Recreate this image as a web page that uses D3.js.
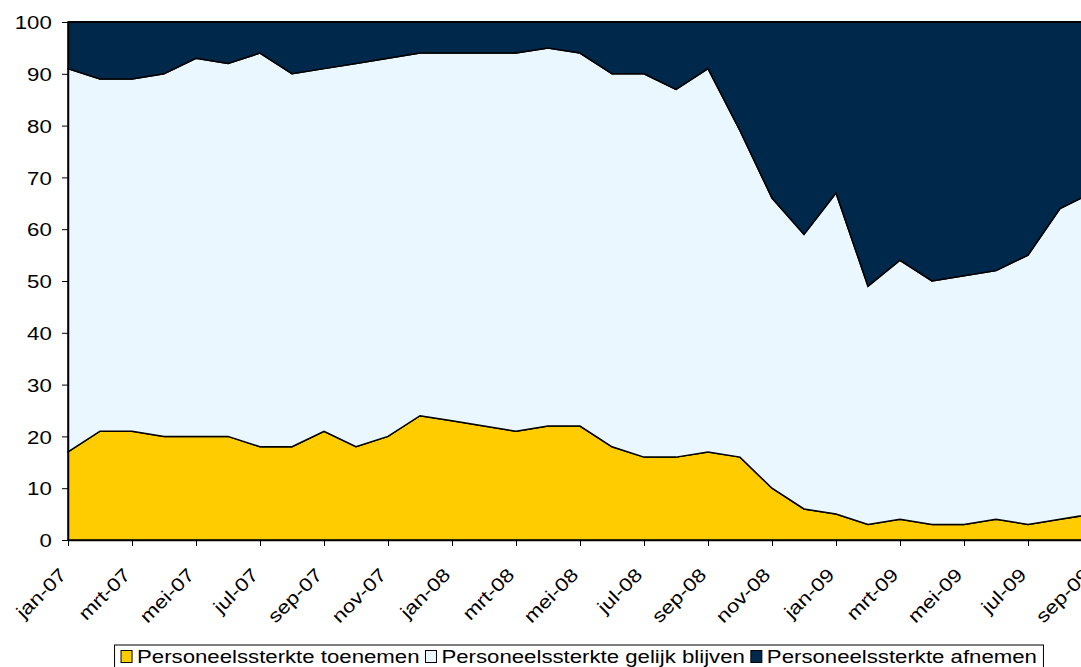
<!DOCTYPE html>
<html>
<head>
<meta charset="utf-8">
<script src="https://cdn.jsdelivr.net/npm/d3@7"></script>
<style>
  html, body { margin: 0; padding: 0; background: #ffffff; overflow: hidden; }
  svg { display: block; }
  text { font-family: "Liberation Sans", Arial, sans-serif; fill: #000; }
</style>
</head>
<body>
<svg id="chart" width="1081" height="667"></svg>
<script>
// ---- data ----
const months = ["jan-07","feb-07","mrt-07","apr-07","mei-07","jun-07","jul-07","aug-07","sep-07","okt-07","nov-07","dec-07",
                "jan-08","feb-08","mrt-08","apr-08","mei-08","jun-08","jul-08","aug-08","sep-08","okt-08","nov-08","dec-08",
                "jan-09","feb-09","mrt-09","apr-09","mei-09","jun-09","jul-09","aug-09","sep-09"];
const toenemen = [17,21,21,20,20,20,18,18,21,18,20,24,23,22,21,22,22,18,16,16,17,16,10,6,5,3,4,3,3,4,3,4,5];
const gelijk   = [74,68,68,70,73,72,76,72,70,74,73,70,71,72,73,73,72,72,74,71,74,63,56,53,62,46,50,47,48,48,52,60,62];
const afnemen  = [9,11,11,10,7,8,6,10,9,8,7,6,6,6,6,5,6,10,10,13,9,21,34,41,33,51,46,50,49,48,45,36,33];
const seriesNames = ["Personeelssterkte toenemen","Personeelssterkte gelijk blijven","Personeelssterkte afnemen"];
const seriesColors = ["#FFCC00","#EAF7FE","#00284A"];
const tickLabels = ["jan-07","mrt-07","mei-07","jul-07","sep-07","nov-07","jan-08","mrt-08","mei-08","jul-08","sep-08","nov-08","jan-09","mrt-09","mei-09","jul-09","sep-09"];
const yTicks = [0,10,20,30,40,50,60,70,80,90,100];

// ---- layout ----
const svg = d3.select("#chart");
const pL = 68, pR = 1092, pT = 22, pB = 540;
const SX = 1.2; // horizontal text stretch
const FS = 18.5;

const x = d3.scalePoint().domain(months).range([pL, pR]);
const y = d3.scaleLinear().domain([0, 100]).range([pB, pT]);

const keys = ["toenemen","gelijk","afnemen"];
const rows = months.map((m, i) => ({ month: m, toenemen: toenemen[i], gelijk: gelijk[i], afnemen: afnemen[i] }));
const stacked = d3.stack().keys(keys)(rows);

const area = d3.area()
  .x(d => x(d.data.month))
  .y0(d => y(d[0]))
  .y1(d => y(d[1]));

svg.append("g").selectAll("path")
  .data(stacked)
  .join("path")
  .attr("d", area)
  .attr("fill", (d, i) => seriesColors[i])
  .attr("stroke", "#000")
  .attr("stroke-width", 1.5)
  .attr("stroke-linejoin", "miter");

// top border of plot
svg.append("line").attr("x1", pL).attr("x2", pR).attr("y1", y(100)).attr("y2", y(100))
  .attr("stroke", "#000").attr("stroke-width", 2);

// y axis
const yAxis = svg.append("g")
  .attr("transform", `translate(${pL},0)`)
  .call(d3.axisLeft(y).tickValues(yTicks).tickSize(6).tickSizeOuter(0));
yAxis.select(".domain").attr("stroke", "#000").attr("stroke-width", 1.5);
yAxis.selectAll(".tick line").attr("stroke", "#000").attr("stroke-width", 1);
yAxis.selectAll(".tick text")
  .attr("x", -13.5)
  .attr("dy", "0.36em")
  .attr("transform", `scale(${SX},1)`)
  .style("font-size", FS + "px")
  .style("font-family", "'Liberation Sans', Arial, sans-serif")
  .attr("fill", "#000");

// x axis
const xAxis = svg.append("g")
  .attr("transform", `translate(0,${pB})`)
  .call(d3.axisBottom(x).tickValues(tickLabels).tickSize(6).tickSizeOuter(0));
xAxis.select(".domain").attr("stroke", "#000").attr("stroke-width", 1.5);
xAxis.selectAll(".tick line").attr("stroke", "#000").attr("stroke-width", 1);
xAxis.selectAll(".tick text").remove();
xAxis.selectAll(".tick").append("text")
  .attr("transform", `translate(-1,36) rotate(-45) scale(${SX},1)`)
  .attr("text-anchor", "end")
  .style("font-size", FS + "px")
  .style("font-family", "'Liberation Sans', Arial, sans-serif")
  .attr("fill", "#000")
  .text(d => d);

// legend
const lg = svg.append("g");
let cx = 0;
const sw = 12, gapText = 4, gapItem = 6;
seriesNames.forEach((name, i) => {
  const g = lg.append("g");
  g.append("rect").attr("x", cx).attr("y", -12.5).attr("width", sw - 1).attr("height", sw)
    .attr("fill", seriesColors[i]).attr("stroke", "#000").attr("stroke-width", 1);
  const t = g.append("text").attr("transform", `translate(${cx + sw + gapText},0) scale(${SX},1)`)
    .style("font-size", FS + "px").text(name);
  const w = t.node().getComputedTextLength() * SX;
  cx += sw + gapText + w + gapItem;
});
const contentW = cx - gapItem;
const boxPad = 6.5;
const boxW = contentW + boxPad * 2;
const centerX = (pL + pR) / 2 - 1;
const boxX = centerX - boxW / 2;
lg.insert("rect", ":first-child")
  .attr("x", -boxPad).attr("y", -18).attr("width", boxW).attr("height", 30)
  .attr("fill", "#fff").attr("stroke", "#000").attr("stroke-width", 1);
lg.attr("transform", `translate(${boxX + boxPad},663)`);
</script>
</body>
</html>
